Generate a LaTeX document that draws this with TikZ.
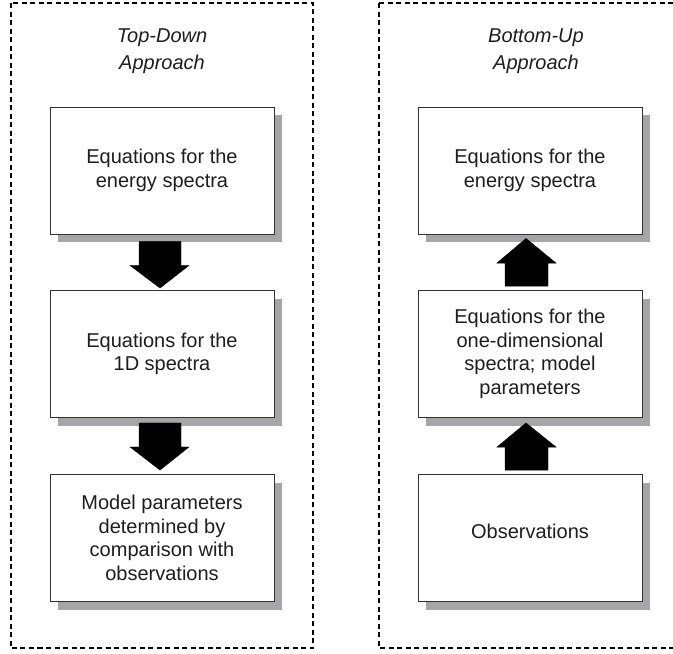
\documentclass[tikz,border=0pt]{standalone}
\usepackage{fontspec}
\setmainfont{Liberation Sans}
\usetikzlibrary{calc,shadows}
\definecolor{shadowgray}{HTML}{A6A6A9}
\definecolor{txt}{HTML}{1E1E1E}
\begin{document}
\begin{tikzpicture}[x=1pt,y=-1pt,
  stepbox/.style={draw=black!80, line width=0.9pt, fill=white, minimum width=224pt, minimum height=127pt,
     align=center, font=\fontsize{20}{23.5}\selectfont, text=txt, inner sep=0pt,
     drop shadow={shadow xshift=8pt, shadow yshift=-8pt, fill=shadowgray, opacity=1}},
  title/.style={align=center, font=\fontsize{20}{27}\selectfont\itshape, text=txt},
  frame/.style={draw=black, line width=1.2pt, dash pattern=on 5pt off 3.5pt},
  blockarrow/.style={fill=black, draw=black, line width=0.4pt}]
\useasboundingbox (0,0) rectangle (673,654);
\clip (0,0) rectangle (673,654);
% frames
\draw[frame] (11,3) rectangle (313,648);
\draw[frame] (379,3) -- (690,3) (379,3) -- (379,648) -- (690,648);
% titles
\node[title] (tl) at (162,51) {Top-Down\\Approach};
\node[title] (tr) at (536,51) {Bottom-Up\\Approach};
% left boxes
\node[stepbox] (L1) at (162,170.5) {Equations for the\\energy spectra};
\node[stepbox] (L2) at (162,354) {\raisebox{5pt}{Equations for the}\\\raisebox{5pt}{1D spectra}};
\node[stepbox] (L3) at (162,538) {Model parameters\\determined by\\comparison with\\observations};
% right boxes
\node[stepbox] (R1) at (530,170.5) {Equations for the\\energy spectra};
\node[stepbox] (R2) at (530,354) {Equations for the\\one-dimensional\\spectra; model\\parameters};
\node[stepbox] (R3) at (530,538) {\raisebox{14pt}{Observations}};
% down arrows (left)
\fill[blockarrow] ($(L1.south)+(-23,7)$) -- ($(L1.south)+(19,7)$) -- ($(L1.south)+(19,31)$) -- ($(L1.south)+(27,31)$)
  -- ($(L2.north)+(-2,-2)$) -- ($(L1.south)+(-32,31)$) -- ($(L1.south)+(-23,31)$) -- cycle;
\fill[blockarrow] ($(L2.south)+(-23,5)$) -- ($(L2.south)+(19,5)$) -- ($(L2.south)+(19,29)$) -- ($(L2.south)+(27,29)$)
  -- ($(L3.north)+(-2,-4)$) -- ($(L2.south)+(-32,29)$) -- ($(L2.south)+(-23,29)$) -- cycle;
% up arrows (right)
\fill[blockarrow] ($(R2.north)+(-25,-4)$) -- ($(R2.north)+(18,-4)$) -- ($(R2.north)+(18,-27)$) -- ($(R2.north)+(26,-27)$)
  -- ($(R1.south)+(-4,4)$) -- ($(R2.north)+(-33,-27)$) -- ($(R2.north)+(-25,-27)$) -- cycle;
\fill[blockarrow] ($(R3.north)+(-25,-4)$) -- ($(R3.north)+(18,-4)$) -- ($(R3.north)+(18,-27)$) -- ($(R3.north)+(26,-27)$)
  -- ($(R2.south)+(-4,5)$) -- ($(R3.north)+(-33,-27)$) -- ($(R3.north)+(-25,-27)$) -- cycle;
\end{tikzpicture}
\end{document}
